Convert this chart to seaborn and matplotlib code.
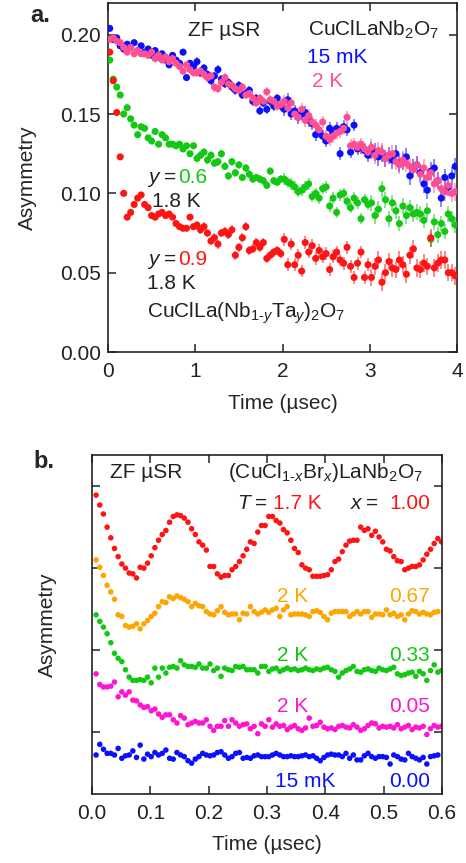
import numpy as np
import pandas as pd
import matplotlib
matplotlib.use('Agg')
import matplotlib.pyplot as plt
import seaborn as sns

# ---------------- panel a: CuClLa(Nb1-yTay)2O7, ZF muSR ----------------
T0_A = 0.02     # first time bin (usec)
BIN_A = 0.04    # bin width (usec)

asym_15mK = [0.204, 0.197, 0.198, 0.193, 0.191, 0.194, 0.192, 0.195, 0.190, 0.193,
             0.189, 0.191, 0.187, 0.190, 0.186, 0.188, 0.184, 0.181, 0.187, 0.184,
             0.182, 0.189, 0.173, 0.182, 0.180, 0.183, 0.176, 0.179, 0.175, 0.171,
             0.174, 0.178, 0.172, 0.169, 0.170, 0.167, 0.165, 0.168, 0.162, 0.163,
             0.165, 0.158, 0.160, 0.152, 0.157, 0.153, 0.158, 0.155, 0.160, 0.155,
             0.153, 0.159, 0.150, 0.152, 0.148, 0.150, 0.151, 0.146, 0.144, 0.137,
             0.139, 0.136, 0.133, 0.141, 0.138, 0.141, 0.125, 0.142, 0.140, 0.126,
             0.143, 0.128, 0.129, 0.127, 0.124, 0.127, 0.126, 0.123, 0.125, 0.122,
             0.124, 0.121, 0.125, 0.119, 0.120, 0.123, 0.111, 0.116, 0.118, 0.113,
             0.106, 0.102, 0.114, 0.116, 0.108, 0.097, 0.110, 0.104, 0.111, 0.117]

asym_2K = [0.197, 0.198, 0.196, 0.195, 0.192, 0.189, 0.192, 0.188, 0.190, 0.188,
           0.188, 0.187, 0.189, 0.185, 0.187, 0.184, 0.186, 0.183, 0.185, 0.182,
           0.180, 0.177, 0.181, 0.178, 0.176, 0.176, 0.177, 0.175, 0.173, 0.174,
           0.167, 0.166, 0.170, 0.173, 0.169, 0.168, 0.166, 0.165, 0.167, 0.162,
           0.163, 0.160, 0.157, 0.160, 0.158, 0.164, 0.159, 0.158, 0.155, 0.156,
           0.158, 0.154, 0.157, 0.150, 0.148, 0.153, 0.146, 0.149, 0.145, 0.143,
           0.140, 0.145, 0.136, 0.134, 0.136, 0.138, 0.139, 0.141, 0.148, 0.130,
           0.131, 0.129, 0.131, 0.128, 0.126, 0.129, 0.124, 0.127, 0.126, 0.122,
           0.124, 0.125, 0.120, 0.118, 0.121, 0.119, 0.117, 0.115, 0.118, 0.112,
           0.116, 0.110, 0.113, 0.106, 0.108, 0.103, 0.101, 0.105, 0.100, 0.101]

asym_y06 = [0.184, 0.172, 0.167, 0.162, 0.150, 0.154, 0.147, 0.143, 0.137, 0.142,
            0.141, 0.135, 0.133, 0.139, 0.131, 0.137, 0.135, 0.131, 0.131, 0.130,
            0.131, 0.128, 0.130, 0.125, 0.130, 0.122, 0.124, 0.126, 0.121, 0.124,
            0.119, 0.120, 0.125, 0.117, 0.111, 0.120, 0.113, 0.118, 0.110, 0.116,
            0.112, 0.109, 0.110, 0.109, 0.108, 0.105, 0.114, 0.108, 0.107, 0.109,
            0.109, 0.107, 0.106, 0.104, 0.101, 0.102, 0.104, 0.106, 0.098, 0.100,
            0.097, 0.103, 0.104, 0.092, 0.097, 0.088, 0.099, 0.100, 0.095, 0.091,
            0.097, 0.094, 0.084, 0.096, 0.093, 0.094, 0.086, 0.090, 0.103, 0.096,
            0.084, 0.094, 0.089, 0.081, 0.092, 0.086, 0.091, 0.087, 0.088, 0.087,
            0.083, 0.089, 0.071, 0.082, 0.074, 0.081, 0.076, 0.087, 0.084, 0.080]

asym_y09 = [0.189, 0.171, 0.151, 0.123, 0.100, 0.085, 0.088, 0.093, 0.097, 0.099,
            0.093, 0.091, 0.086, 0.085, 0.087, 0.088, 0.086, 0.087, 0.085, 0.081,
            0.079, 0.078, 0.078, 0.085, 0.079, 0.080, 0.077, 0.079, 0.075, 0.070,
            0.072, 0.068, 0.075, 0.076, 0.074, 0.077, 0.061, 0.066, 0.072, 0.079,
            0.064, 0.065, 0.069, 0.066, 0.069, 0.059, 0.061, 0.063, 0.064, 0.062,
            0.071, 0.055, 0.068, 0.055, 0.061, 0.051, 0.069, 0.063, 0.067, 0.059,
            0.064, 0.060, 0.062, 0.052, 0.060, 0.063, 0.058, 0.056, 0.066, 0.054,
            0.047, 0.056, 0.063, 0.047, 0.055, 0.047, 0.054, 0.058, 0.044, 0.050,
            0.057, 0.053, 0.052, 0.058, 0.055, 0.049, 0.061, 0.065, 0.053, 0.052,
            0.056, 0.054, 0.072, 0.053, 0.056, 0.058, 0.058, 0.050, 0.050, 0.048]

# typical error bar half-width in each 1-usec block
err_15mK = [0.0018, 0.0028, 0.0040, 0.0055]
err_2K = [0.0018, 0.0028, 0.0040, 0.0055]
err_y06 = [0.0016, 0.0025, 0.0036, 0.0050]
err_y09 = [0.0018, 0.0028, 0.0040, 0.0055]

# ---------------- panel b: (CuCl1-xBrx)LaNb2O7, ZF muSR (offset curves) ----------------
T0_B = 0.007
BIN_B = 0.0063

asym_x100 = [3.89, 3.77, 3.66, 3.50, 3.37, 3.24, 3.14, 3.05, 3.00, 2.94,
             2.93, 2.88, 3.01, 3.00, 3.06, 3.15, 3.25, 3.34, 3.41, 3.46,
             3.56, 3.63, 3.65, 3.64, 3.61, 3.56, 3.48, 3.41, 3.32, 3.28,
             3.22, 3.02, 3.02, 2.93, 2.89, 2.91, 2.91, 2.98, 3.02, 3.08,
             3.15, 3.23, 3.32, 3.30, 3.44, 3.52, 3.52, 3.63, 3.63, 3.58,
             3.55, 3.47, 3.43, 3.34, 3.24, 3.19, 3.04, 3.00, 2.98, 2.90,
             2.90, 2.90, 2.91, 2.92, 2.98, 3.08, 3.11, 3.20, 3.28, 3.33,
             3.34, 3.34, 3.50, 3.46, 3.48, 3.40, 3.45, 3.38, 3.32, 3.23,
             3.21, 3.14, 3.09, 3.08, 2.98, 3.00, 3.02, 3.02, 3.04, 3.10,
             3.17, 3.23, 3.30, 3.36, 3.32]

asym_x067 = [3.10, 3.01, 2.91, 2.79, 2.71, 2.62, 2.43, 2.41, 2.30, 2.28,
             2.29, 2.32, 2.26, 2.32, 2.36, 2.41, 2.45, 2.53, 2.59, 2.58,
             2.65, 2.63, 2.66, 2.64, 2.62, 2.59, 2.53, 2.57, 2.54, 2.53,
             2.47, 2.44, 2.43, 2.48, 2.53, 2.46, 2.43, 2.44, 2.44, 2.37,
             2.45, 2.44, 2.53, 2.47, 2.44, 2.46, 2.49, 2.46, 2.49, 2.51,
             2.41, 2.49, 2.53, 2.43, 2.44, 2.44, 2.44, 2.43, 2.41, 2.47,
             2.48, 2.46, 2.41, 2.37, 2.45, 2.47, 2.47, 2.47, 2.47, 2.41,
             2.44, 2.47, 2.44, 2.47, 2.47, 2.40, 2.44, 2.44, 2.43, 2.49,
             2.43, 2.45, 2.41, 2.43, 2.37, 2.44, 2.48, 2.47, 2.44, 2.46,
             2.44, 2.43, 2.46, 2.47]

asym_x033 = [2.43, 2.35, 2.28, 2.20, 2.09, 1.96, 1.90, 1.86, 1.76, 1.67,
             1.63, 1.63, 1.64, 1.63, 1.67, 1.60, 1.78, 1.67, 1.78, 1.72,
             1.79, 1.80, 1.78, 1.87, 1.82, 1.80, 1.80, 1.79, 1.83, 1.78,
             1.78, 1.83, 1.75, 1.78, 1.68, 1.78, 1.76, 1.75, 1.80, 1.79,
             1.80, 1.76, 1.76, 1.76, 1.72, 1.80, 1.80, 1.74, 1.77, 1.78,
             1.74, 1.76, 1.78, 1.76, 1.77, 1.75, 1.76, 1.78, 1.76, 1.75,
             1.77, 1.76, 1.78, 1.79, 1.76, 1.74, 1.67, 1.72, 1.75, 1.77,
             1.80, 1.74, 1.73, 1.76, 1.77, 1.75, 1.74, 1.78, 1.76, 1.75,
             1.77, 1.79, 1.71, 1.69, 1.70, 1.72, 1.73, 1.68, 1.74, 1.71,
             1.63, 1.75, 1.82, 1.73, 1.75]

asym_x005 = [1.71, 1.58, 1.55, 1.55, 1.56, 1.61, 1.43, 1.49, 1.45, 1.49,
             1.39, 1.38, 1.33, 1.30, 1.31, 1.26, 1.28, 1.22, 1.18, 1.21,
             1.21, 1.15, 1.11, 1.20, 1.17, 1.09, 1.11, 1.13, 1.11, 1.11,
             1.15, 1.07, 1.02, 1.07, 1.07, 1.14, 1.07, 1.15, 1.11, 1.07,
             1.09, 1.10, 1.04, 1.07, 0.98, 1.10, 1.07, 1.15, 1.06, 1.10,
             1.07, 1.08, 1.03, 1.06, 1.08, 1.04, 1.02, 1.05, 1.17, 1.07,
             1.08, 1.12, 1.06, 1.04, 1.05, 1.03, 1.07, 1.08, 1.06, 1.05,
             1.09, 1.06, 1.02, 1.04, 1.08, 1.11, 1.10, 1.05, 1.07, 1.06,
             1.07, 1.05, 1.09, 1.04, 1.06, 1.08, 1.03, 1.06, 1.05, 1.07,
             0.97, 1.04, 1.08, 1.06, 1.07]

asym_x000 = [0.72, 0.85, 0.79, 0.74, 0.74, 0.72, 0.80, 0.68, 0.71, 0.72,
             0.77, 0.69, 0.84, 0.67, 0.73, 0.70, 0.75, 0.72, 0.74, 0.78,
             0.68, 0.67, 0.75, 0.72, 0.70, 0.65, 0.62, 0.67, 0.70, 0.74,
             0.72, 0.71, 0.72, 0.75, 0.76, 0.72, 0.68, 0.70, 0.74, 0.75,
             0.68, 0.69, 0.68, 0.71, 0.72, 0.70, 0.70, 0.70, 0.72, 0.74,
             0.72, 0.70, 0.70, 0.71, 0.70, 0.70, 0.71, 0.72, 0.70, 0.71,
             0.68, 0.65, 0.69, 0.72, 0.73, 0.72, 0.72, 0.70, 0.74, 0.68,
             0.72, 0.66, 0.66, 0.71, 0.74, 0.70, 0.68, 0.70, 0.70, 0.69,
             0.61, 0.72, 0.70, 0.67, 0.66, 0.74, 0.70, 0.68, 0.66, 0.69,
             0.61, 0.70, 0.71, 0.72]

BLUE = '#0a10ff'
PINK = '#ff4f92'
GREEN = '#12c812'
RED = '#ff1414'
ORANGE = '#ffa500'
MAGENTA = '#ff14d2'

sns.set_style('ticks')
plt.rcParams['font.family'] = ['Liberation Sans', 'DejaVu Sans']
plt.rcParams['mathtext.fontset'] = 'custom'
plt.rcParams['mathtext.rm'] = 'Liberation Sans'
plt.rcParams['mathtext.it'] = 'Liberation Sans:italic'
plt.rcParams['mathtext.bf'] = 'Liberation Sans:bold'

FS = 15
fig = plt.figure(figsize=(4.66, 8.63), dpi=100)

# axes placed to match the reference pixel boxes
W, H = 466, 863
ax_a = fig.add_axes([108 / W, 1 - 352 / H, 349 / W, 349 / H])
ax_b = fig.add_axes([92 / W, 1 - 794 / H, 350 / W, 339 / H])


def times(t0, step, values):
    return t0 + step * np.arange(len(values))


def block_err(t, errs):
    idx = np.clip(np.floor(t).astype(int), 0, len(errs) - 1)
    return np.asarray(errs)[idx]


# ---- panel a
series_a = [
    ('y=0.6', asym_y06, err_y06, GREEN),
    ('y=0.9', asym_y09, err_y09, RED),
    ('15 mK', asym_15mK, err_15mK, BLUE),
    ('2 K', asym_2K, err_2K, PINK),
]
for name, vals, errs, col in series_a:
    t = times(T0_A, BIN_A, vals)
    df = pd.DataFrame({'t': t, 'A': vals})
    ax_a.errorbar(df['t'], df['A'], yerr=block_err(t, errs), fmt='none',
                  ecolor=col, alpha=0.5, elinewidth=1.4, capsize=0)
    sns.scatterplot(data=df, x='t', y='A', color=col, s=26, edgecolor='none',
                    ax=ax_a, legend=False, zorder=3)

ax_a.set_xlim(0, 4)
ax_a.set_ylim(0, 0.22)
ax_a.set_xticks([0, 1, 2, 3, 4])
ax_a.set_yticks([0.00, 0.05, 0.10, 0.15, 0.20])
ax_a.set_yticklabels(['0.00', '0.05', '0.10', '0.15', '0.20'])
ax_a.set_xlabel('Time (\u00b5sec)', fontsize=FS)
ax_a.set_ylabel('Asymmetry', fontsize=FS)
ax_a.xaxis.set_label_coords(0.5, -0.12)
ax_a.yaxis.set_label_coords(-0.205, 0.5)
ax_a.xaxis.label.set_va('top')


def pa(px, py):
    return (px - 108) / 349, (352 - py) / 349


def pb(px, py):
    return (px - 92) / 350, (794 - py) / 339


def txt(ax, conv, px, py, s, color='#222222', **kw):
    x, y = conv(px, py)
    ax.text(x, y, s, transform=ax.transAxes, fontsize=FS, color=color,
            ha=kw.pop('ha', 'left'), va='baseline', **kw)


txt(ax_a, pa, 188, 36, 'ZF \u00b5SR')
txt(ax_a, pa, 308, 36, r'CuClLaNb$_2$O$_7$')
txt(ax_a, pa, 307, 63, '15 mK', color=BLUE)
txt(ax_a, pa, 312, 87, '2 K', color=PINK)
txt(ax_a, pa, 147, 183, r'$y$')
txt(ax_a, pa, 164, 183, '=')
txt(ax_a, pa, 178, 183, '0.6', color=GREEN)
txt(ax_a, pa, 152, 207, '1.8 K')
txt(ax_a, pa, 147, 265, r'$y$')
txt(ax_a, pa, 164, 265, '=')
txt(ax_a, pa, 178, 265, '0.9', color=RED)
txt(ax_a, pa, 147, 289, '1.8 K')
txt(ax_a, pa, 147, 318, r'CuClLa(Nb$_{\text{1-}y}$Ta$_{y}$)$_2$O$_7$')

# ---- panel b
series_b = [
    ('1.00', asym_x100, RED),
    ('0.67', asym_x067, ORANGE),
    ('0.33', asym_x033, GREEN),
    ('0.05', asym_x005, MAGENTA),
    ('0.00', asym_x000, BLUE),
]
for name, vals, col in series_b:
    df = pd.DataFrame({'t': times(T0_B, BIN_B, vals), 'A': vals})
    sns.scatterplot(data=df, x='t', y='A', color=col, s=16, edgecolor='none',
                    ax=ax_b, legend=False)

ax_b.set_xlim(0, 0.6)
ax_b.set_ylim(0.244, 4.38)
ax_b.set_xticks([0.0, 0.1, 0.2, 0.3, 0.4, 0.5, 0.6])
ax_b.set_xticklabels(['0.0', '0.1', '0.2', '0.3', '0.4', '0.5', '0.6'])
ax_b.set_yticks([1, 2, 3, 4])
ax_b.set_xlabel('Time (\u00b5sec)', fontsize=FS)
ax_b.set_ylabel('Asymmetry', fontsize=FS)
ax_b.xaxis.set_label_coords(0.5, -0.122)
ax_b.yaxis.set_label_coords(-0.10, 0.5)
ax_b.xaxis.label.set_va('top')

txt(ax_b, pb, 110, 478, 'ZF \u00b5SR')
txt(ax_b, pb, 228, 478, r'(CuCl$_{\text{1-}x}$Br$_{x}$)LaNb$_2$O$_7$')
txt(ax_b, pb, 237, 509, r'$T$')
txt(ax_b, pb, 255, 509, '=')
txt(ax_b, pb, 273, 509, '1.7 K', color=RED)
txt(ax_b, pb, 350, 509, r'$x$')
txt(ax_b, pb, 366, 509, '=')
txt(ax_b, pb, 430, 509, '1.00', color=RED, ha='right')
txt(ax_b, pb, 277, 602, '2 K', color=ORANGE)
txt(ax_b, pb, 430, 602, '0.67', color=ORANGE, ha='right')
txt(ax_b, pb, 277, 661, '2 K', color=GREEN)
txt(ax_b, pb, 430, 661, '0.33', color=GREEN, ha='right')
txt(ax_b, pb, 277, 712, '2 K', color=MAGENTA)
txt(ax_b, pb, 430, 712, '0.05', color=MAGENTA, ha='right')
txt(ax_b, pb, 275, 787, '15 mK', color=BLUE)
txt(ax_b, pb, 430, 787, '0.00', color=BLUE, ha='right')

for ax in (ax_a, ax_b):
    ax.tick_params(direction='in', top=True, right=True, length=6, width=1.1,
                   labelsize=FS, colors='#222222')
    ax.tick_params(axis='x', pad=7)
    ax.tick_params(axis='y', pad=5)
    for sp in ax.spines.values():
        sp.set_linewidth(1.2)
        sp.set_color('#222222')
ax_b.tick_params(axis='y', labelleft=False)

fig.text(30 / W, 1 - 22 / H, 'a.', fontsize=17, fontweight='bold', va='baseline')
fig.text(33 / W, 1 - 468 / H, 'b.', fontsize=17, fontweight='bold', va='baseline')

fig.savefig('out.png', dpi=100)
